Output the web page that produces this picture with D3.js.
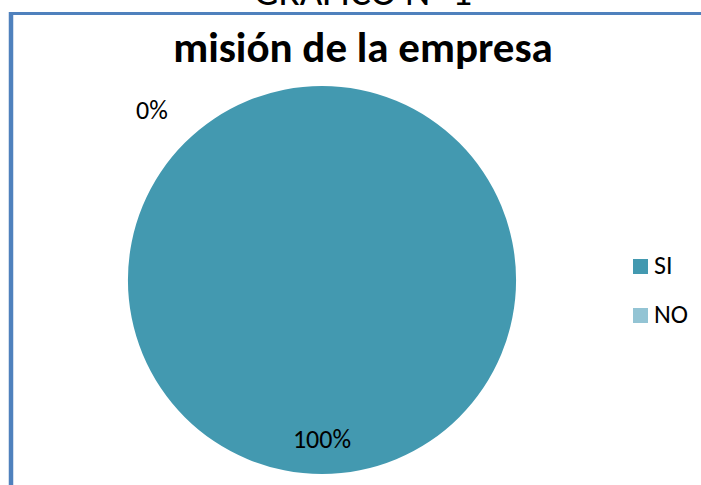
<!DOCTYPE html>
<html>
<head>
<meta charset="utf-8">
<script src="https://cdn.jsdelivr.net/npm/d3@7"></script>
<style>
  body { margin: 0; background: #fff; }
  svg { display: block; font-family: Carlito, "Open Sans", "Liberation Sans", sans-serif; }
</style>
</head>
<body>
<div id="chart"></div>
<script>
const categories = ['SI', 'NO'];
const values = [100, 0];
const labels = ['100%', '0%'];
const colors = ['#4399B0', '#93C4D4'];

const WIDTH = 701, HEIGHT = 485;
const CX = 322, CY = 280, R = 194;

const svg = d3.select('#chart')
    .append('svg')
    .attr('width', WIDTH)
    .attr('height', HEIGHT);

// frame of the chart area (only top and left edges are visible)
svg.append('line')
    .attr('x1', 9).attr('x2', WIDTH)
    .attr('y1', 13.5).attr('y2', 13.5)
    .attr('stroke', '#4F81BD').attr('stroke-width', 3);
svg.append('line')
    .attr('x1', 11).attr('x2', 11)
    .attr('y1', 12).attr('y2', HEIGHT)
    .attr('stroke', '#4F81BD').attr('stroke-width', 4.5);

// header text, cut off at the top like in the source
svg.append('text')
    .attr('x', 363)
    .attr('y', 5)
    .attr('text-anchor', 'middle')
    .style('font-size', '39px')
    .text('GRAFICO N° 1');

svg.append('text')
    .attr('x', 363)
    .attr('y', 62)
    .attr('text-anchor', 'middle')
    .style('font-size', '43px')
    .style('font-weight', 'bold')
    .text('misión de la empresa');

const pie = d3.pie().sort(null).value(d => d.value);
const data = pie(categories.map((c, i) => ({ name: c, value: values[i], label: labels[i], color: colors[i] })));

const arc = d3.arc().innerRadius(0).outerRadius(R);

const g = svg.append('g')
    .attr('transform', `translate(${CX}, ${CY})`);

g.selectAll('path.slice')
    .data(data)
    .enter()
    .append('path')
    .attr('class', 'slice')
    .attr('d', arc)
    .attr('fill', d => d.data.color);

// data labels: inside for the full slice, outside upper-left for the empty one
g.selectAll('text.lbl')
    .data(data)
    .enter()
    .append('text')
    .attr('class', 'lbl')
    .attr('text-anchor', 'middle')
    .attr('dy', '0.35em')
    .style('font-size', '26px')
    .attr('transform', d => {
        let a, r;
        if (d.data.value > 0) {
            a = (d.startAngle + d.endAngle) / 2;
            r = R * 0.82;
        } else {
            a = -Math.PI / 4;
            r = R * 1.24;
        }
        return `translate(${Math.sin(a) * r}, ${-Math.cos(a) * r})`;
    })
    .text(d => d.data.label);

// legend
const legend = svg.append('g')
    .attr('transform', 'translate(633, 259)');

const item = legend.selectAll('g.item')
    .data(categories)
    .enter()
    .append('g')
    .attr('class', 'item')
    .attr('transform', (d, i) => `translate(0, ${i * 49})`);

item.append('rect')
    .attr('width', 15)
    .attr('height', 15)
    .attr('fill', (d, i) => colors[i]);

item.append('text')
    .attr('x', 21)
    .attr('y', 15)
    .style('font-size', '26px')
    .text(d => d);
</script>
</body>
</html>
